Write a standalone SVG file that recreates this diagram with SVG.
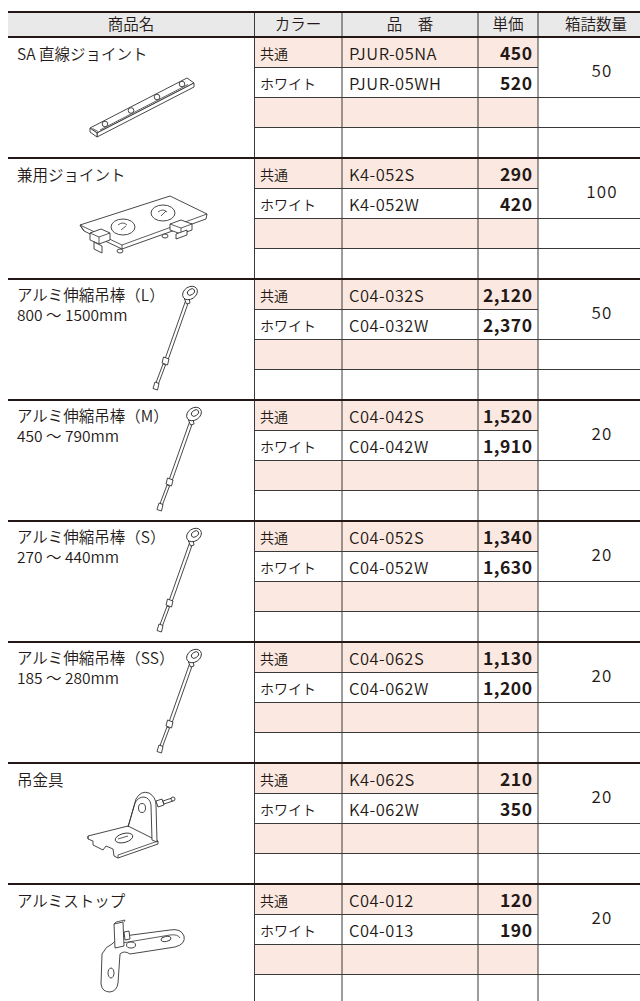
<svg xmlns="http://www.w3.org/2000/svg" width="640" height="1001" viewBox="0 0 640 1001">
<style>
text{font-family:"Noto Sans CJK JP","Noto Sans",sans-serif;fill:#231815;font-weight:350}
.h{font-size:15.5px;text-anchor:middle}
.n{font-size:15.5px}
.c{font-size:14px}
.p{font-size:16.5px;letter-spacing:0.5px}
.pr{font-size:17.5px;font-weight:bold;text-anchor:end;letter-spacing:0.5px}
.q{font-size:17px;text-anchor:middle;letter-spacing:1.2px}
.pink{fill:#fbe9e1}
.thin{stroke:#3a3a3a;stroke-width:1;fill:none}
.thick{stroke:#231815;stroke-width:2;fill:none}
.art{fill:#fff;stroke:#333;stroke-width:0.9;stroke-linejoin:round}
.artn{fill:none;stroke:#333;stroke-width:0.8;stroke-linejoin:round}
</style>
<defs>
<g id="rod">
<path class="art" d="M185.5,22 L188.5,23 L168,81 L165,80 Z"/>
<path class="art" d="M163.5,78 L169,80 L167.5,86 L162,84 Z"/>
<path class="art" d="M163,85 L165.5,86 L158,106 L155.5,105 Z"/>
<path class="art" d="M155,103 L159,104.5 L157.5,111 L153,109.5 Z"/>
<path class="art" d="M184.5,20 L186.5,25 L190,24 L189,19 Z"/>
<ellipse class="art" cx="190" cy="14" rx="8" ry="6" transform="rotate(-35 190 14)"/>
<ellipse class="art" cx="191" cy="13" rx="4" ry="2.8" transform="rotate(-35 191 13)"/>
</g>
</defs>

<g id="grid">
<rect x="8" y="12" width="632" height="25" fill="#e9e9e9"/>
<g class="pink">
<rect x="254" y="38" width="284" height="29.5"/><rect x="254" y="98" width="284" height="29.5"/>
<rect x="254" y="159" width="284" height="29.5"/><rect x="254" y="219" width="284" height="29.5"/>
<rect x="254" y="280" width="284" height="29.5"/><rect x="254" y="340" width="284" height="29.5"/>
<rect x="254" y="401" width="284" height="29.5"/><rect x="254" y="461" width="284" height="29.5"/>
<rect x="254" y="522" width="284" height="29.5"/><rect x="254" y="582" width="284" height="29.5"/>
<rect x="254" y="643" width="284" height="29.5"/><rect x="254" y="703" width="284" height="29.5"/>
<rect x="254" y="764" width="284" height="29.5"/><rect x="254" y="824" width="284" height="29.5"/>
<rect x="254" y="885" width="284" height="29.5"/><rect x="254" y="945" width="284" height="29.5"/>
</g>
</g>

<g id="connectors">
<path class="thin" d="M254,67.5H538M254,97.5H640M254,127.5H640
M254,188.5H538M254,218.5H640M254,248.5H640
M254,309.5H538M254,339.5H640M254,369.5H640
M254,430.5H538M254,460.5H640M254,490.5H640
M254,551.5H538M254,581.5H640M254,611.5H640
M254,672.5H538M254,702.5H640M254,732.5H640
M254,793.5H538M254,823.5H640M254,853.5H640
M254,914.5H538M254,944.5H640M254,974.5H640"/>
<path class="thin" d="M254.5,12V1001M342,12V1001M478,12V1001M538,12V1001"/>
<path class="thick" d="M8,12H640M8,37H640M8,158H640M8,279H640M8,400H640M8,521H640M8,642H640M8,763H640M8,884H640"/>
</g>

<g id="header">
<text class="h" x="131" y="30">商品名</text>
<text class="h" x="298" y="30">カラー</text>
<text class="h" x="410" y="30">品　番</text>
<text class="h" x="508" y="30">単価</text>
<text class="h" x="596" y="30">箱詰数量</text>
</g>

<g id="item-sa-joint" transform="translate(0,37)">
<text class="n" x="17" y="23">SA 直線ジョイント</text>
<text class="c" x="260" y="22">共通</text><text class="p" x="349" y="23">PJUR-05NA</text><text class="pr" x="532.5" y="23">450</text>
<text class="c" x="260" y="52">ホワイト</text><text class="p" x="349" y="53">PJUR-05WH</text><text class="pr" x="532.5" y="53">520</text>
<text class="q" x="602" y="40">50</text>
<path class="art" d="M90,91 L187,41 L194,46 L97,96 Z"/>
<path class="art" d="M97,96 L194,46 L194,50 L97,100 Z"/>
<path class="art" d="M90,91 L90,95 L97,100 L97,96 Z"/>
<path class="artn" d="M92.5,91.5 L98,94.5 M100,93 L188,47.5"/>
<circle class="art" cx="105" cy="87" r="2.8"/><circle class="art" cx="131" cy="73.5" r="2.8"/>
<circle class="art" cx="157" cy="60" r="2.8"/><circle class="art" cx="182" cy="47" r="2.8"/>
</g>

<g id="item-kenyo-joint" transform="translate(0,158)">
<text class="n" x="17" y="23">兼用ジョイント</text>
<text class="c" x="260" y="22">共通</text><text class="p" x="349" y="23">K4-052S</text><text class="pr" x="532.5" y="23">290</text>
<text class="c" x="260" y="52">ホワイト</text><text class="p" x="349" y="53">K4-052W</text><text class="pr" x="532.5" y="53">420</text>
<text class="q" x="602" y="40">100</text>
<path class="art" d="M80,67 L84,73 L122,91 L206,61 L207,56 L170,38 Z"/>
<path class="artn" d="M84,73 L80,67 M122,91 L122,87 L80,67 M122,87 L207,56"/>
<ellipse class="art" cx="123" cy="69" rx="12" ry="8"/>
<path class="artn" d="M118,67 Q123,63 127,67 M121,72 L126,68"/>
<ellipse class="art" cx="163" cy="55" rx="12" ry="8"/>
<path class="artn" d="M158,54 Q163,50 167,54 M161,58 L166,53"/>
<path class="art" d="M90,75 L101,71 L110,75 L110,82 L99,86 L90,82 Z"/>
<path class="artn" d="M90,75 L99,79 L110,75 M99,79 L99,86"/>
<path class="art" d="M94,84 L102,88 L102,95 L94,91 Z"/>
<path class="art" d="M170,66 L181,62 L192,66 L192,72 L181,76 L170,72 Z"/>
<path class="artn" d="M170,66 L181,70 L192,66 M181,70 L181,76"/>
<path class="art" d="M176,76 L187,72 L187,77 L176,81 Z"/>
<ellipse class="art" cx="120" cy="93" rx="3" ry="2"/>
<ellipse class="art" cx="165" cy="78" rx="3" ry="2"/>
</g>

<g id="item-rod-l" transform="translate(0,279)">
<text class="n" x="17" y="22">アルミ伸縮吊棒（L）</text>
<text class="n" x="17" y="42">800 ～ 1500mm</text>
<text class="c" x="260" y="22">共通</text><text class="p" x="349" y="23">C04-032S</text><text class="pr" x="532.5" y="23">2,120</text>
<text class="c" x="260" y="52">ホワイト</text><text class="p" x="349" y="53">C04-032W</text><text class="pr" x="532.5" y="53">2,370</text>
<text class="q" x="602" y="40">50</text>
<use href="#rod"/>
</g>

<g id="item-rod-m" transform="translate(0,400)">
<text class="n" x="17" y="22">アルミ伸縮吊棒（M）</text>
<text class="n" x="17" y="42">450 ～ 790mm</text>
<text class="c" x="260" y="22">共通</text><text class="p" x="349" y="23">C04-042S</text><text class="pr" x="532.5" y="23">1,520</text>
<text class="c" x="260" y="52">ホワイト</text><text class="p" x="349" y="53">C04-042W</text><text class="pr" x="532.5" y="53">1,910</text>
<text class="q" x="602" y="40">20</text>
<use href="#rod" transform="translate(4,0)"/>
</g>

<g id="item-rod-s" transform="translate(0,521)">
<text class="n" x="17" y="22">アルミ伸縮吊棒（S）</text>
<text class="n" x="17" y="42">270 ～ 440mm</text>
<text class="c" x="260" y="22">共通</text><text class="p" x="349" y="23">C04-052S</text><text class="pr" x="532.5" y="23">1,340</text>
<text class="c" x="260" y="52">ホワイト</text><text class="p" x="349" y="53">C04-052W</text><text class="pr" x="532.5" y="53">1,630</text>
<text class="q" x="602" y="40">20</text>
<use href="#rod" transform="translate(4,0)"/>
</g>

<g id="item-rod-ss" transform="translate(0,642)">
<text class="n" x="17" y="22">アルミ伸縮吊棒（SS）</text>
<text class="n" x="17" y="42">185 ～ 280mm</text>
<text class="c" x="260" y="22">共通</text><text class="p" x="349" y="23">C04-062S</text><text class="pr" x="532.5" y="23">1,130</text>
<text class="c" x="260" y="52">ホワイト</text><text class="p" x="349" y="53">C04-062W</text><text class="pr" x="532.5" y="53">1,200</text>
<text class="q" x="602" y="40">20</text>
<use href="#rod" transform="translate(4,0)"/>
</g>

<g id="item-tsurikanagu" transform="translate(0,763)">
<text class="n" x="17" y="23">吊金具</text>
<text class="c" x="260" y="22">共通</text><text class="p" x="349" y="23">K4-062S</text><text class="pr" x="532.5" y="23">210</text>
<text class="c" x="260" y="52">ホワイト</text><text class="p" x="349" y="53">K4-062W</text><text class="pr" x="532.5" y="53">350</text>
<text class="q" x="602" y="40">20</text>
<path class="art" d="M88,73 L128,63 L158,78 L158,81 L118,95 L114,93 L113,86 L106,83 L103,87 L93,82 L93,78 L88,76 Z"/>
<path class="artn" d="M88,73 L88,76 M118,92 L158,78 M118,92 L118,95"/>
<path class="art" d="M128,64 L136,36 Q141,27 149,30 Q156,34 156,42 L157,79 L152,77 L151,42 Q150,35 144,34 Q138,34 135,40 L128,64 Z"/>
<ellipse class="art" cx="124" cy="75" rx="9" ry="4.5" transform="rotate(-15 124 75)"/>
<path class="artn" d="M118,76 L128,73"/>
<ellipse class="art" cx="142" cy="45" rx="3.5" ry="4.5"/>
<path class="art" d="M156,38 L162,36 L164,42 L158,44 Z"/>
<path class="art" d="M163,38 L172,35 L173,38 L164,41 Z"/>
<circle class="art" cx="173" cy="36" r="2"/>
</g>

<g id="item-aluminum-stop" transform="translate(0,884)">
<text class="n" x="17" y="23">アルミストップ</text>
<text class="c" x="260" y="22">共通</text><text class="p" x="349" y="23">C04-012</text><text class="pr" x="532.5" y="23">120</text>
<text class="c" x="260" y="52">ホワイト</text><text class="p" x="349" y="53">C04-013</text><text class="pr" x="532.5" y="53">190</text>
<text class="q" x="602" y="40">20</text>
<path class="art" d="M112,60 Q106,62 102,70 L101,100 Q102,108 110,108 Q117,107 118,99 L120,70 Q124,66 130,70 L175,63 Q186,60 184,52 Q181,44 170,46 L124,52 Q116,55 112,60 Z"/>
<path class="artn" d="M118,62 Q122,58 128,58 L170,51 Q178,50 180,54"/>
<ellipse class="art" cx="166" cy="55" rx="5" ry="2.5" transform="rotate(-10 166 55)"/>
<ellipse class="art" cx="111" cy="89" rx="3" ry="5"/>
<ellipse class="art" cx="131" cy="61" rx="4.5" ry="3"/>
<path class="art" d="M114,40 L123,38 L124,62 L115,64 Z"/>
<path class="artn" d="M114,40 L116,38 L125,36 L124,38"/>
<path class="art" d="M124,48 L129,47 L130,55 L125,56 Z"/>
</g>
</svg>
